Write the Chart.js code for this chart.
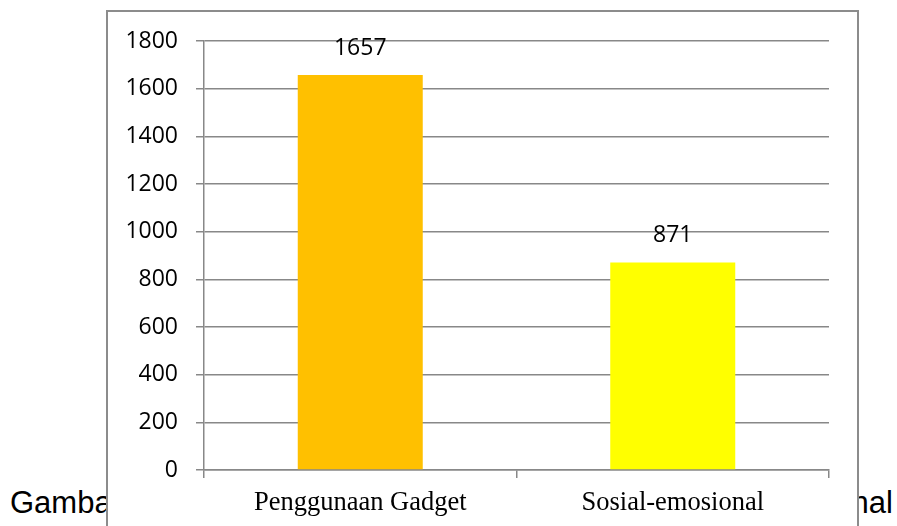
<!DOCTYPE html>
<html>
<head>
<meta charset="utf-8">
<script src="https://cdn.jsdelivr.net/npm/chart.js@4/dist/chart.umd.min.js"></script>
<style>
  body { margin: 0; width: 897px; height: 526px; overflow: hidden; background: #fff; position: relative; }
  .caption {
    position: absolute; left: 10px; top: 485px; width: 883px;
    font-family: "Liberation Sans", Arial, sans-serif; font-size: 31px; color: #000;
    text-align: justify; text-align-last: justify; white-space: nowrap;
  }
  .box {
    position: absolute; left: 106px; top: 10px; width: 749px; height: 600px;
    border: 2px solid #8c8c8c; background: #fff;
  }
  #chart { position: absolute; left: 0; top: 0; }
</style>
</head>
<body>
<div class="caption">Gambar 1. Penggunaan Gadget dan Sosial-emosional</div>
<div class="box"></div>
<canvas id="chart" width="897" height="526"></canvas>
<script>
// data
const categories = ['Penggunaan Gadget', 'Sosial-emosional'];
const values = [1657, 871];
const yTicks = [0, 200, 400, 600, 800, 1000, 1200, 1400, 1600, 1800];

const barColors = ['#FFC000', '#FFFF00'];
const lineGray = '#888888';

// value labels above bars
const valueLabels = {
    id: 'valueLabels',
    afterDatasetsDraw(chart) {
        const ctx = chart.ctx;
        const meta = chart.getDatasetMeta(0);
        ctx.save();
        ctx.font = '23px "Open Sans"';
        ctx.fillStyle = '#000';
        ctx.textAlign = 'center';
        ctx.textBaseline = 'middle';
        meta.data.forEach(function (bar, i) {
            ctx.fillText(String(values[i]), bar.x, bar.y - 27);
        });
        ctx.restore();
    }
};

const ctx = document.getElementById('chart').getContext('2d');
const myChart = new Chart(ctx, {
    type: 'bar',
    data: {
        labels: categories,
        datasets: [{
            data: values,
            backgroundColor: barColors,
            categoryPercentage: 0.8,
            barPercentage: 0.5
        }]
    },
    options: {
        responsive: false,
        animation: false,
        devicePixelRatio: 1,
        layout: { padding: { left: 0, right: 68, top: 41, bottom: 0 } },
        plugins: {
            legend: { display: false },
            tooltip: { enabled: false }
        },
        scales: {
            x: {
                grid: { drawOnChartArea: false, tickLength: 8, color: lineGray, lineWidth: 1.5 },
                border: { color: lineGray, width: 1.5 },
                ticks: { color: '#000', padding: 9, font: { family: '"Liberation Serif"', size: 26.5 } },
                afterFit(s) { s.height = 56; }
            },
            y: {
                min: yTicks[0],
                max: yTicks[yTicks.length - 1],
                afterBuildTicks(axis) { axis.ticks = yTicks.map(v => ({ value: v })); },
                grid: { color: lineGray, lineWidth: 1.5, tickLength: 8 },
                border: { color: lineGray, width: 1.5 },
                ticks: {
                    color: '#000', padding: 18,
                    font: { family: '"Open Sans"', size: 23 },
                    callback: v => String(v)
                },
                afterFit(s) { s.width = 204; }
            }
        }
    },
    plugins: [valueLabels]
});
</script>
</body>
</html>
